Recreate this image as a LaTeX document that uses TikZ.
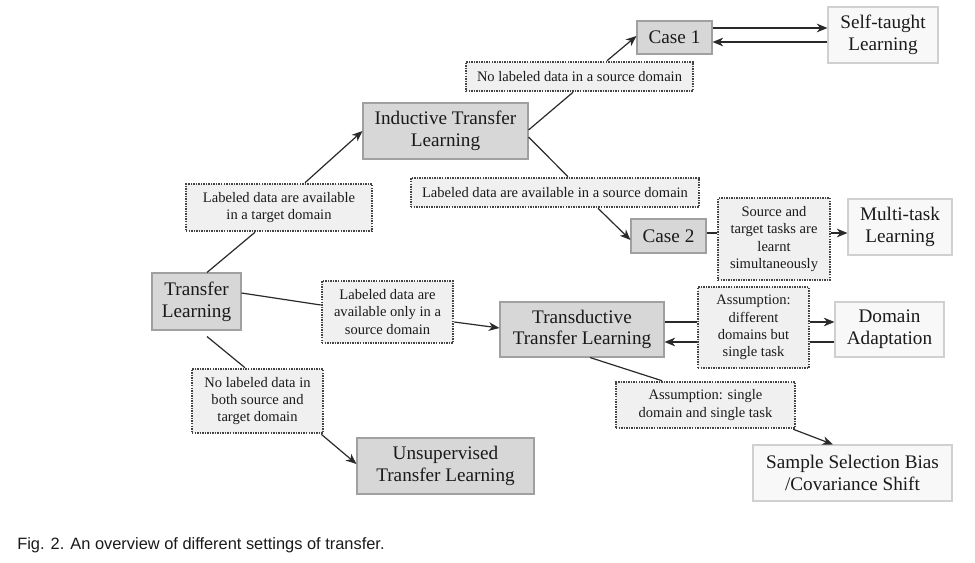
\documentclass[tikz,border=0pt]{standalone}
\usepackage{fontspec}
\setmainfont{Liberation Serif}
\newfontfamily\capfont{Liberation Sans}
\usetikzlibrary{arrows.meta,calc}
\definecolor{gfill}{HTML}{D7D7D7}
\definecolor{gline}{HTML}{A0A0A0}
\definecolor{lfill}{HTML}{F8F8F8}
\definecolor{lline}{HTML}{D0D0D0}
\definecolor{dfill}{HTML}{F0F0F0}
\definecolor{dline}{HTML}{444444}
\definecolor{ink}{HTML}{1A1A1A}
\definecolor{conn}{HTML}{2A2A2A}
\tikzset{
  sz/.style 2 args={minimum width=#1*0.75pt, minimum height=#2*0.75pt},
  bigtxt/.style={font=\fontsize{14.4pt}{16.3pt}\selectfont, text=ink, align=center, inner sep=0pt},
  smalltxt/.style={font=\fontsize{10.9pt}{13.1pt}\selectfont, text=ink, align=center, inner sep=0pt},
  graybox/.style={bigtxt, draw=gline, fill=gfill, line width=0.8pt},
  lightbox/.style={bigtxt, draw=lline, fill=lfill, line width=0.8pt},
  dotbox/.style={smalltxt, draw=dline, fill=dfill, line width=1.9pt, dash pattern=on 1.1pt off 0.8pt},
  conline/.style={draw=conn, line width=0.9pt},
  conarrow/.style={conline, -{Stealth[length=8pt, width=6.5pt, inset=2.5pt]}},
}
\begin{document}
\begin{tikzpicture}[x=0.75pt, y=-0.75pt]
\path[use as bounding box, fill=white] (0,0) rectangle (975,563);

% main nodes
\node[graybox, sz={89}{57}] (tl) at (196.5,301.5) {Transfer\\Learning};
\node[graybox, sz={165}{56}] (itl) at (445.5,131) {Inductive Transfer\\Learning};
\node[graybox, sz={164}{55}] (ttl) at (582,329.5) {Transductive\\Transfer Learning};
\node[graybox, sz={177}{56}] (utl) at (445.5,466) {Unsupervised\\Transfer Learning};
\node[graybox, sz={75}{33}] (c1) at (674.5,37.5) {Case 1};
\node[graybox, sz={75}{34}] (c2) at (668.5,236) {Case 2};
\node[lightbox, sz={110}{56}] (stl) at (883,35) {Self-taught\\Learning};
\node[lightbox, sz={104}{56}] (mtl) at (900,227) {Multi-task\\Learning};
\node[lightbox, sz={109}{55}] (da) at (889.5,329.5) {Domain\\Adaptation};
\node[lightbox, sz={199}{56}] (ssb) at (852.5,473) {Sample Selection Bias\\/Covariance Shift};

% dotted condition labels
\node[dotbox, sz={186}{47}] (l1) at (279,207.5) {Labeled data are available\\in a target domain};
\node[dotbox, sz={227}{29}] (l2) at (579.5,76.5) {No labeled data in a source domain};
\node[dotbox, sz={288}{29}] (l3) at (555,192.5) {Labeled data are available in a source domain};
\node[dotbox, sz={112}{82}] (l4) at (774,239) {Source and\\target tasks are\\learnt\\simultaneously};
\node[dotbox, sz={131}{62}] (l5) at (387.5,312) {Labeled data are\\available only in a\\source domain};
\node[dotbox, sz={111}{81}] (l6) at (753.5,327.5) {Assumption:\\different\\domains but\\single task};
\node[dotbox, sz={179}{46}] (l7) at (705.5,405) {Assumption: single\\domain and single task};
\node[dotbox, sz={131}{64}] (l8) at (257.5,401) {No labeled data in\\both source and\\target domain};

% caption
\node[font=\capfont\fontsize{12.3pt}{14pt}\selectfont, text=ink, anchor=base west, inner sep=0pt] (cap) at (17,549) {Fig. 2. An overview of different settings of transfer.};

% connectors: inductive branch
\draw[conline] ($(tl.north)+(10.5,0)$) -- ($(l1.south)+(-24,0)$);
\draw[conarrow] ($(l1.north)+(26,0)$) -- (itl.west);
\draw[conline] ($(itl.east)+(0,-1)$) -- ($(l2.south)+(-6.5,0)$);
\draw[conarrow] ($(l2.north)+(27.5,0)$) -- ($(c1.west)+(0,-1.5)$);
\draw[conarrow] ($(c1.east)+(0,-9.5)$) coordinate (a1) -- (a1 -| stl.west);
\draw[conarrow] ($(stl.west)+(0,7)$) coordinate (a2) -- (a2 -| c1.east);
\draw[conline] ($(itl.east)+(0,6)$) -- ($(l3.north)+(13,0)$);
\draw[conarrow] ($(l3.south)+(43,0)$) -- ($(c2.west)+(0,4)$);
\draw[conline] ($(c2.east)+(0,-3)$) coordinate (a3) -- (a3 -| l4.west);
\path ($(mtl.west)+(0,6)$) coordinate (a4);
\draw[conarrow] (a4 -| l4.east) -- (a4);

% transductive branch
\draw[conline] ($(tl.east)+(0,-8.5)$) -- ($(l5.west)+(0,-7)$);
\draw[conarrow] ($(l5.east)+(0,10)$) -- ($(ttl.west)+(0,-1.5)$);
\draw[conline] ($(ttl.east)+(0,-7.5)$) coordinate (a5) -- (a5 -| l6.west);
\draw[conarrow] (a5 -| l6.east) -- (a5 -| da.west);
\draw[conline] ($(da.west)+(0,12.5)$) coordinate (a6) -- (a6 -| l6.east);
\draw[conarrow] (a6 -| l6.west) -- (a6 -| ttl.east);
\draw[conline] ($(ttl.south)+(8,0)$) -- ($(l7.north)+(-43.5,0)$);
\draw[conarrow] ($(l7.south east)+(-3,0)$) -- ($(ssb.north)+(-19.5,0)$);

% unsupervised branch
\draw[conline] ($(tl.south)+(10.5,6)$) -- ($(l8.north)+(-12.5,0)$);
\draw[conarrow] ($(l8.south east)+(-3,0)$) -- ($(utl.west)+(0,-2)$);
\end{tikzpicture}
\end{document}
